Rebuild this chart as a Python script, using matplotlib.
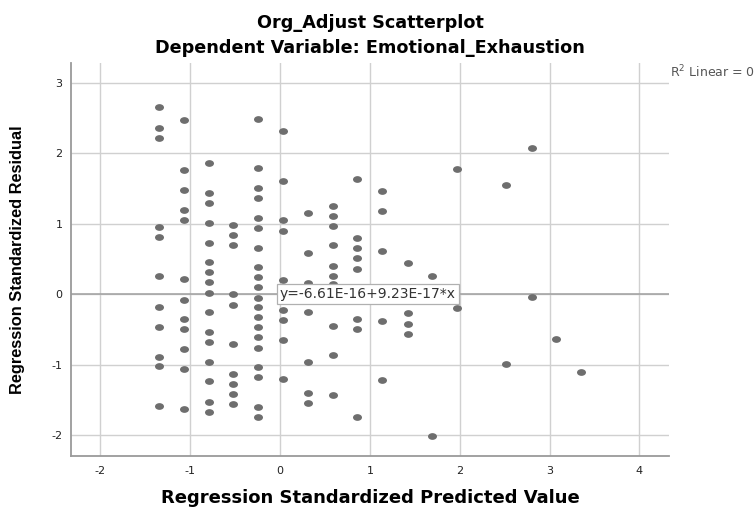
import numpy as np
import matplotlib.pyplot as plt
from matplotlib.path import Path
from matplotlib.transforms import Affine2D

plt.rcParams["axes.unicode_minus"] = False

# standardized predicted values (the points line up in columns)
pred_levels = [-1.35, -1.07, -0.79, -0.52, -0.24, 0.03, 0.31, 0.59, 0.86,
               1.14, 1.42, 1.69, 1.97, 2.52, 2.80, 3.07, 3.35]

# standardized residuals for each predicted level
resid_by_level = [
    [2.65, 2.36, 2.22, 0.95, 0.81, 0.25, -0.18, -0.46, -0.89, -1.02, -1.59],
    [2.47, 1.76, 1.48, 1.19, 1.05, 0.21, -0.08, -0.36, -0.50, -0.78, -1.07, -1.63],
    [1.86, 1.44, 1.30, 1.01, 0.73, 0.45, 0.31, 0.17, 0.02, -0.26, -0.54, -0.68,
     -0.96, -1.24, -1.53, -1.67],
    [0.98, 0.84, 0.70, 0.00, -0.15, -0.71, -1.14, -1.28, -1.42, -1.56],
    [2.49, 1.79, 1.51, 1.37, 1.08, 0.94, 0.66, 0.38, 0.24, 0.10, -0.05, -0.19,
     -0.33, -0.47, -0.61, -0.76, -1.04, -1.18, -1.60, -1.74],
    [2.32, 1.61, 1.05, 0.90, 0.20, -0.23, -0.37, -0.65, -1.21],
    [1.15, 0.59, 0.16, -0.26, -0.97, -1.40, -1.54],
    [1.25, 1.11, 0.97, 0.69, 0.40, 0.26, 0.14, -0.45, -0.87, -1.43],
    [1.64, 0.79, 0.65, 0.51, 0.36, -0.35, -0.49, -1.75],
    [1.46, 1.18, 0.61, -0.38, -1.22],
    [0.44, -0.27, -0.42, -0.56],
    [0.26, -2.01],
    [1.77, -0.20],
    [1.55, -0.99],
    [2.08, -0.04],
    [-0.64],
    [-1.11],
]

# fit line y = a + b*x
intercept = -6.61e-16
slope = 9.23e-17
r_squared = 0

xticks = [-2, -1, 0, 1, 2, 3, 4]
yticks = [-2, -1, 0, 1, 2, 3]

x = np.concatenate([[lv] * len(r) for lv, r in zip(pred_levels, resid_by_level)])
y = np.concatenate(resid_by_level)

W, H = 755, 508
fig = plt.figure(figsize=(W / 100, H / 100), dpi=100)
ax = fig.add_axes([71 / W, 1 - 456 / H, (669 - 71) / W, (456 - 63) / H])

ax.set_xlim(-2.327, 4.33)
ax.set_ylim(-2.298, 3.28)
ax.set_xticks(xticks)
ax.set_yticks(yticks)
ax.tick_params(length=0, labelsize=8, colors="#222222")
ax.tick_params(axis="x", pad=7)
ax.tick_params(axis="y", pad=6)
ax.grid(True, color="#d0d0d0", linewidth=1.0)
ax.set_axisbelow(True)
for side in ["top", "right"]:
    ax.spines[side].set_visible(False)
for side in ["left", "bottom"]:
    ax.spines[side].set_color("#9a9a9a")
    ax.spines[side].set_linewidth(1.3)

# slightly flattened dots
ellipse = Path.unit_circle().transformed(Affine2D().scale(1.0, 0.75))
ax.scatter(x, y, s=42, marker=ellipse, color="#6e6e6e", linewidths=0, zorder=3)

xl = np.array(ax.get_xlim())
ax.plot(xl, intercept + slope * xl, color="#a0a0a0", linewidth=1.1, zorder=2)

ax.text(0.0, intercept, "y=%.2fE-16+%.2fE-17*x" % (intercept * 1e16, slope * 1e17),
        fontsize=10, color="#333333", ha="left", va="center", zorder=4,
        bbox=dict(boxstyle="square,pad=0.2", facecolor="white",
                  edgecolor="#b0b0b0", linewidth=0.9))

fig.text(670 / W, 1 - 77 / H, "R$^2$ Linear = %d" % r_squared, fontsize=9,
         color="#555555", ha="left", va="baseline")

fig.text(370 / W, 1 - 28 / H, "Org_Adjust Scatterplot", fontsize=12.7,
         fontweight="bold", ha="center", va="baseline")
fig.text(370 / W, 1 - 53 / H, "Dependent Variable: Emotional_Exhaustion",
         fontsize=12.7, fontweight="bold", ha="center", va="baseline")
fig.text(370 / W, 1 - 503 / H, "Regression Standardized Predicted Value",
         fontsize=13, fontweight="bold", ha="center", va="baseline")
fig.text(18 / W, 1 - 260 / H, "Regression Standardized Residual",
         family="Liberation Sans", fontsize=11.8, fontweight="bold",
         rotation=90, ha="center", va="center")

fig.savefig("out.png", dpi=100)
